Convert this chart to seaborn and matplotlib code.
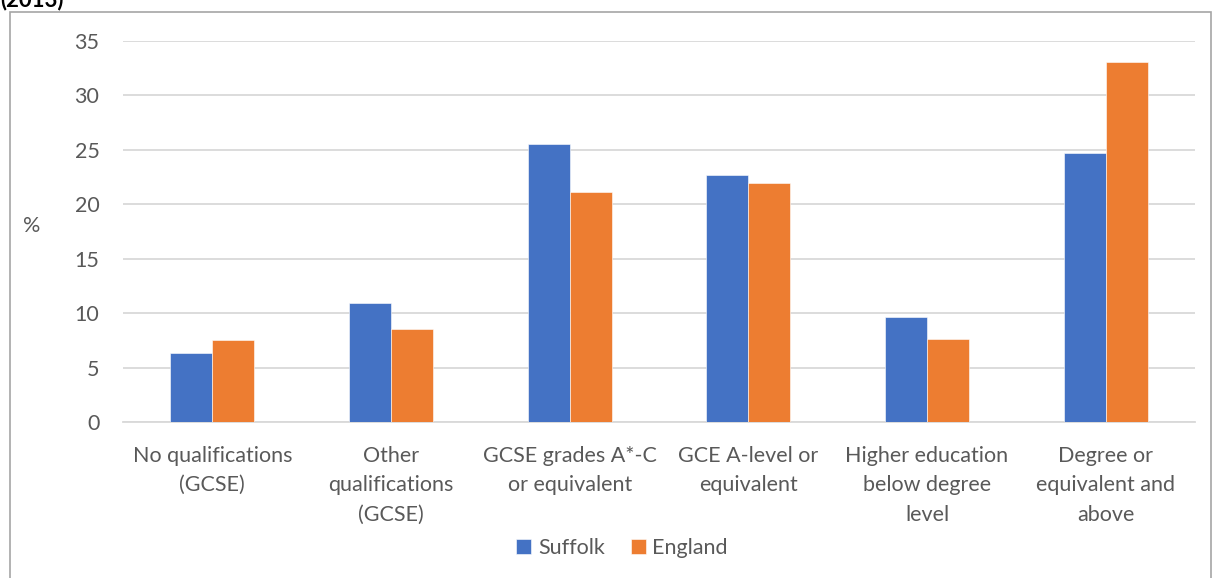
import matplotlib
matplotlib.use("Agg")
import matplotlib.pyplot as plt
from matplotlib.patches import Rectangle
import seaborn as sns
import pandas as pd

categories = [
    "No qualifications\n(GCSE)",
    "Other\nqualifications\n(GCSE)",
    "GCSE grades A*-C\nor equivalent",
    "GCE A-level or\nequivalent",
    "Higher education\nbelow degree\nlevel",
    "Degree or\nequivalent and\nabove",
]
suffolk = [6.3, 10.9, 25.5, 22.7, 9.6, 24.7]
england = [7.5, 8.5, 21.1, 22.0, 7.6, 33.1]
series_names = ["Suffolk", "England"]
yticks = [0, 5, 10, 15, 20, 25, 30, 35]

df = pd.DataFrame({
    "Qualification": categories * 2,
    "Area": [series_names[0]] * len(categories) + [series_names[1]] * len(categories),
    "Percent": suffolk + england,
})

sns.set_theme(style="white")
plt.rcParams["font.family"] = ["Lato", "DejaVu Sans"]
text_color = "#595959"
grid_color = "#D9D9D9"
fs = 15.5

W, H = 1213, 578
fig = plt.figure(figsize=(W / 100, H / 100), dpi=100)
ax = fig.add_axes([123 / W, 1 - 422 / H, (1195 - 123) / W, (422 - 41) / H])

sns.barplot(
    data=df, x="Qualification", y="Percent", hue="Area",
    order=categories, hue_order=series_names,
    palette=["#4472C4", "#ED7D31"], saturation=1, width=0.47, gap=0,
    edgecolor="white", linewidth=0.4, legend=True, ax=ax, zorder=3,
)

ax.set_ylim(0, 35)
ax.set_xlim(-0.5, len(categories) - 0.5)
ax.set_yticks(yticks)
ax.yaxis.grid(True, color=grid_color, linewidth=1.3, zorder=0)
ax.set_axisbelow(True)
for side in ["top", "right", "left"]:
    ax.spines[side].set_visible(False)
ax.spines["bottom"].set_color(grid_color)
ax.spines["bottom"].set_linewidth(1.3)
ax.tick_params(axis="y", length=0, pad=17, labelsize=fs, labelcolor=text_color)
ax.tick_params(axis="x", length=0, pad=17, labelsize=fs, labelcolor=text_color)
for lbl in ax.get_xticklabels():
    lbl.set_linespacing(1.6)
ax.set_xlabel("")
ax.set_ylabel("%", rotation=0, fontsize=fs, color=text_color, labelpad=0,
              va="center", ha="center")
ax.yaxis.set_label_coords((32 - 123) / (1195 - 123), (422 - 226) / (422 - 41))

handles, labels = ax.get_legend_handles_labels()
ax.get_legend().remove()
fig.legend(
    handles, labels, loc="center", bbox_to_anchor=(622 / W, 1 - 548 / H),
    ncol=2, frameon=False, fontsize=fs, labelcolor=text_color,
    handlelength=0.7, handleheight=0.7, handletextpad=0.3, columnspacing=1.2,
)

# chart frame and the tail of the title line
fig.patches.append(Rectangle((10 / W, -0.05), (1211 - 10) / W, 1.05 - 12 / H,
                             transform=fig.transFigure, fill=False,
                             edgecolor="#A6A6A6", linewidth=1.2))
fig.text(0.0, 1 - 10 / H, "(2013)", fontsize=16, fontweight="bold",
         color="#000000", ha="left", va="bottom")

fig.savefig("out.png", dpi=100)
